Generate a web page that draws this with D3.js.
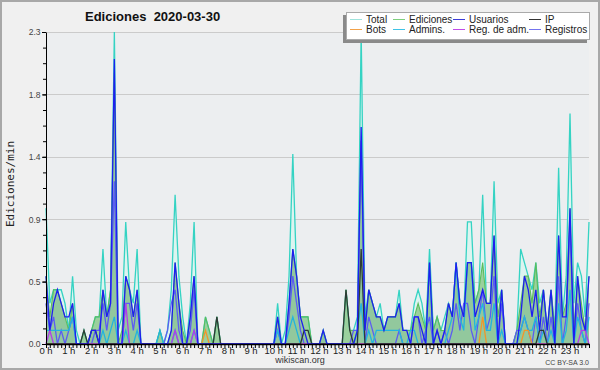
<!DOCTYPE html>
<html><head><meta charset="utf-8">
<script src="https://cdn.jsdelivr.net/npm/d3@7"></script>
<style>body{margin:0;background:#f0f0f0}svg{display:block}</style>
</head><body><svg id="c" width="600" height="370"></svg>
<script>
const hourLabels = ["0 h","1 h","2 h","3 h","4 h","5 h","6 h","7 h","8 h","9 h","10 h","11 h","12 h","13 h","14 h","15 h","16 h","17 h","18 h","19 h","20 h","21 h","22 h","23 h"];
const yTickValues = [0, 0.46, 0.92, 1.38, 1.84, 2.3];
const yTickLabels = ["0.0","0.5","0.9","1.4","1.8","2.3"];
const seriesNames = ["Total","Ediciones","Usuarios","IP","Bots","Admins.","Reg. de adm.","Registros"];

// edits per minute, 10-minute bins (6 per hour)
const total = [
1.0,0.3,0.4,0.4,0.4,0.3, 0.1,0.5,0.1,0.0,0.1,0.0, 0.1,0.2,0.2,0.7,0.2,0.4, 2.3,0.1,0.2,0.9,0.4,0.3,
0.7,0.0,0.0,0.0,0.0,0.0, 0.1,0.0,0.1,0.4,1.1,0.5, 0.2,0.0,0.3,0.9,0.0,0.0, 0.2,0.1,0.0,0.2,0.0,0.0,
0.0,0.0,0.0,0.0,0.0,0.0, 0.0,0.0,0.0,0.0,0.0,0.0, 0.0,0.3,0.0,0.1,0.5,1.4, 0.5,0.2,0.2,0.2,0.0,0.0,
0.0,0.1,0.0,0.0,0.0,0.0, 0.0,0.4,0.1,0.1,0.2,2.3, 0.2,0.4,0.3,0.2,0.3,0.1, 0.2,0.2,0.2,0.4,0.1,0.1,
0.1,0.3,0.4,0.3,0.1,0.7, 0.1,0.2,0.1,0.2,0.3,0.2, 0.6,0.3,0.2,0.9,0.9,0.3, 0.4,1.1,0.3,0.3,1.2,0.3,
0.4,0.0,0.0,0.0,0.1,0.7, 0.6,0.5,0.4,0.6,0.3,0.4, 0.1,0.4,0.1,1.3,0.2,0.5, 1.7,0.3,0.6,0.5,0.2,0.9];
const ediciones = [
0.5,0.2,0.4,0.4,0.3,0.2, 0.1,0.3,0.0,0.0,0.1,0.0, 0.1,0.2,0.2,0.4,0.2,0.4, 2.0,0.0,0.1,0.5,0.4,0.2,
0.4,0.0,0.0,0.0,0.0,0.0, 0.1,0.0,0.0,0.1,0.6,0.3, 0.1,0.0,0.2,0.5,0.0,0.0, 0.2,0.1,0.0,0.2,0.0,0.0,
0.0,0.0,0.0,0.0,0.0,0.0, 0.0,0.0,0.0,0.0,0.0,0.0, 0.0,0.2,0.0,0.0,0.3,0.7, 0.5,0.2,0.2,0.2,0.0,0.0,
0.0,0.1,0.0,0.0,0.0,0.0, 0.0,0.4,0.1,0.1,0.1,1.5, 0.1,0.4,0.3,0.2,0.2,0.1, 0.2,0.2,0.2,0.3,0.1,0.1,
0.1,0.2,0.3,0.2,0.1,0.6, 0.1,0.2,0.1,0.1,0.3,0.2, 0.6,0.3,0.2,0.6,0.6,0.3, 0.4,0.6,0.3,0.3,0.8,0.2,
0.4,0.0,0.0,0.0,0.1,0.3, 0.5,0.5,0.3,0.6,0.2,0.4, 0.1,0.4,0.1,0.8,0.2,0.3, 1.0,0.1,0.5,0.3,0.1,0.5];
const usuarios = [
0.5,0.1,0.3,0.4,0.3,0.2, 0.2,0.3,0.0,0.0,0.0,0.0, 0.1,0.1,0.0,0.4,0.2,0.3, 2.1,0.0,0.0,0.5,0.4,0.2,
0.4,0.0,0.0,0.0,0.0,0.0, 0.0,0.0,0.0,0.1,0.6,0.3, 0.0,0.0,0.2,0.5,0.0,0.0, 0.0,0.0,0.0,0.0,0.0,0.0,
0.0,0.0,0.0,0.0,0.0,0.0, 0.0,0.0,0.0,0.0,0.0,0.0, 0.0,0.2,0.0,0.0,0.3,0.7, 0.5,0.2,0.1,0.0,0.0,0.0,
0.0,0.1,0.0,0.0,0.0,0.0, 0.0,0.0,0.0,0.0,0.1,1.6, 0.1,0.4,0.3,0.2,0.2,0.1, 0.2,0.2,0.2,0.3,0.1,0.1,
0.0,0.2,0.2,0.1,0.0,0.6, 0.0,0.1,0.0,0.1,0.3,0.2, 0.6,0.3,0.2,0.6,0.6,0.2, 0.3,0.4,0.3,0.3,0.8,0.0,
0.4,0.0,0.0,0.0,0.0,0.2, 0.5,0.4,0.2,0.4,0.1,0.4, 0.1,0.4,0.0,0.8,0.2,0.2, 1.0,0.0,0.5,0.2,0.1,0.5];
const ip = [
0,0,0,0,0,0, 0,0,0,0,0.1,0, 0.1,0.1,0,0,0,0, 0,0,0,0,0,0,
0,0,0,0,0,0, 0,0,0,0,0,0, 0,0,0,0,0,0, 0,0,0,0.2,0,0,
0,0,0,0,0,0, 0,0,0,0,0,0, 0,0,0,0,0,0, 0,0,0.1,0.1,0,0,
0,0,0,0,0,0, 0,0.4,0.1,0,0,0.7, 0,0,0,0,0,0, 0,0,0,0,0,0,
0,0,0,0,0,0, 0,0,0,0,0,0, 0,0,0,0,0,0, 0,0,0,0,0,0,
0,0,0,0,0,0, 0,0,0,0,0.1,0.1, 0,0,0,0,0,0, 0,0,0,0,0,0];
const bots = [
0,0,0,0,0,0, 0,0,0,0,0,0, 0,0,0,0,0,0, 0,0,0,0,0,0,
0,0,0,0,0,0, 0,0,0,0,0,0, 0,0,0,0,0,0, 0.1,0,0,0,0,0,
0,0,0,0,0,0, 0,0,0,0,0,0, 0,0,0,0,0,0, 0,0,0,0,0,0,
0,0,0,0,0,0, 0,0,0,0,0,0, 0,0,0,0,0,0, 0,0,0,0,0,0,
0,0,0,0,0,0, 0,0,0,0,0,0, 0,0,0,0,0,0, 0,0.2,0,0,0,0,
0,0,0,0,0,0, 0.1,0.1,0,0,0,0, 0,0,0,0,0,0, 0,0,0,0,0,0];
const admins = [
0.1,0.1,0.1,0.1,0.1,0.1, 0.1,0.2,0.0,0.0,0.0,0.0, 0.0,0.0,0.0,0.1,0.0,0.1, 0.2,0.0,0.0,0.1,0.0,0.0,
0.1,0.0,0.0,0.0,0.0,0.0, 0.1,0.0,0.0,0.0,0.1,0.0, 0.0,0.0,0.0,0.1,0.0,0.0, 0.0,0.0,0.0,0.0,0.0,0.0,
0.0,0.0,0.0,0.0,0.0,0.0, 0.0,0.0,0.0,0.0,0.0,0.0, 0.0,0.1,0.0,0.0,0.1,0.2, 0.1,0.0,0.0,0.0,0.0,0.0,
0.0,0.0,0.0,0.0,0.0,0.0, 0.0,0.0,0.0,0.0,0.1,0.3, 0.0,0.1,0.0,0.1,0.1,0.1, 0.1,0.1,0.1,0.1,0.0,0.0,
0.1,0.1,0.0,0.0,0.0,0.6, 0.0,0.0,0.0,0.0,0.1,0.2, 0.6,0.2,0.1,0.6,0.6,0.1, 0.2,0.3,0.1,0.1,0.3,0.0,
0.1,0.0,0.0,0.0,0.0,0.1, 0.2,0.1,0.1,0.2,0.0,0.1, 0.0,0.1,0.0,0.3,0.0,0.1, 0.4,0.0,0.2,0.1,0.0,0.2];
const regAdm = [
0,0.1,0,0,0,0, 0,0,0,0,0,0, 0,0,0,0,0,0, 0,0,0,0.3,0,0,
0,0,0,0,0,0, 0,0,0,0,0.1,0, 0,0,0,0.1,0,0, 0,0,0,0,0,0,
0,0,0,0,0,0, 0,0,0,0,0,0, 0,0,0,0,0,0, 0,0,0,0,0,0,
0,0,0,0,0,0, 0,0,0,0,0,0, 0,0,0,0,0,0, 0,0,0,0,0,0,
0,0,0,0,0,0, 0,0,0,0,0,0, 0,0,0,0,0,0, 0,0,0,0,0,0,
0,0,0,0,0,0, 0,0,0,0,0,0, 0,0,0,0,0,0, 0,0,0,0.1,0.1,0];
const registros = [
0.3,0.1,0.2,0.0,0.1,0.0, 0.1,0.2,0.0,0.0,0.0,0.0, 0.0,0.1,0.1,0.3,0.1,0.3, 1.2,0.0,0.0,0.3,0.3,0.1,
0.3,0.0,0.0,0.0,0.0,0.0, 0.0,0.0,0.1,0.3,0.4,0.1, 0.0,0.0,0.1,0.4,0.0,0.0, 0.0,0.0,0.0,0.0,0.0,0.0,
0.0,0.0,0.0,0.0,0.0,0.0, 0.0,0.0,0.0,0.0,0.0,0.0, 0.0,0.1,0.0,0.0,0.2,0.5, 0.3,0.1,0.0,0.0,0.0,0.0,
0.0,0.0,0.0,0.0,0.0,0.0, 0.0,0.0,0.0,0.1,0.1,1.5, 0.0,0.2,0.1,0.0,0.0,0.0, 0.0,0.0,0.0,0.1,0.0,0.0,
0.0,0.2,0.2,0.0,0.1,0.2, 0.0,0.1,0.0,0.1,0.0,0.1, 0.3,0.1,0.3,0.3,0.1,0.0, 0.2,0.4,0.1,0.2,0.5,0.0,
0.3,0.0,0.0,0.0,0.1,0.1, 0.2,0.1,0.0,0.2,0.0,0.2, 0.0,0.2,0.0,0.5,0.0,0.2, 0.9,0.0,0.3,0.1,0.0,0.3];

const lineColors = {total:"#35d3c3", ediciones:"#5cbc5c", usuarios:"#1e1ef0", ip:"#2d3b35",
  bots:"#f0962a", admins:"#22b4de", regAdm:"#b43ce8", registros:"#5c5cf2"};
const legendColors = ["#9fe3dc","#7ecf7e","#3c3cd8","#333333","#f2a24a","#3fc3e6","#c04ce8","#7474ee"];

const svg = d3.select("#c");
svg.append("rect").attr("x",1).attr("y",1).attr("width",598).attr("height",368)
  .attr("fill","#f0f0f0").attr("stroke","#a8a8a8").attr("stroke-width",2);

const N = total.length;
const x = d3.scaleLinear().domain([0, N-1]).range([46, 589]);
const y = d3.scaleLinear().domain([0, 2.3]).range([344, 32]);

svg.append("rect").attr("x",46).attr("y",32).attr("width",543).attr("height",312).attr("fill","#eceef0");

// grid
svg.append("g").selectAll("line").data(yTickValues.slice(1)).join("line")
  .attr("x1",46).attr("x2",589).attr("y1",d=>Math.round(y(d))+0.5).attr("y2",d=>Math.round(y(d))+0.5)
  .attr("stroke","#cbcbcb").attr("stroke-width",1);

const idx = d3.range(N);
const area = arr => d3.area().x(i=>x(i)).y0(y(0)).y1(i=>y(arr[i]));
const line = arr => d3.line().x(i=>x(i)).y(i=>y(arr[i]));

svg.append("path").attr("d", area(total)(idx)).attr("fill","#dcf4ef").attr("opacity",0.9);
svg.append("path").attr("d", area(ediciones)(idx)).attr("fill","#92cc94").attr("opacity",0.9);
svg.append("path").attr("d", area(usuarios)(idx)).attr("fill","#3060b0").attr("opacity",0.07);

const order = [["total",total],["ediciones",ediciones],["registros",registros],["admins",admins],
  ["bots",bots],["regAdm",regAdm],["ip",ip],["usuarios",usuarios]];
order.forEach(([k,arr])=>{
  svg.append("path").attr("d", line(arr)(idx)).attr("fill","none")
    .attr("stroke", lineColors[k]).attr("stroke-width", k==="ediciones"?1.1:1.3).attr("stroke-linejoin","miter");
});

// axes
const yMinor = d3.range(0, 21).map(k=>k*0.115);
svg.append("g").attr("transform","translate(46,0)")
  .call(d3.axisLeft(y).tickValues(yMinor).tickSize(3).tickSizeOuter(0).tickFormat(""))
  .call(g=>g.select(".domain").attr("stroke","#000"))
  .call(g=>g.selectAll(".tick line").attr("stroke","#000"));
svg.append("g").attr("transform","translate(46,0)")
  .call(d3.axisLeft(y).tickValues(yTickValues).tickSize(4).tickSizeOuter(0).tickFormat((d,i)=>yTickLabels[i]))
  .call(g=>g.select(".domain").remove())
  .call(g=>g.selectAll(".tick line").attr("stroke","#000"))
  .call(g=>g.selectAll(".tick text").attr("x",-5.5).attr("dy","0.35em")
     .attr("font-family","Liberation Sans, Arial, sans-serif").attr("font-size","8.5px").attr("fill","#444"));

svg.append("g").attr("transform","translate(0,344)")
  .call(d3.axisBottom(x).tickValues(idx).tickSize(4).tickSizeOuter(0).tickFormat(""))
  .call(g=>g.select(".domain").attr("stroke","#000").attr("stroke-width",1.3))
  .call(g=>g.selectAll(".tick line").attr("stroke","#000"));
svg.append("g").selectAll("text").data(hourLabels).join("text")
  .attr("x",(d,i)=>x(i*6)).attr("y",354).attr("text-anchor","middle")
  .attr("font-family","Liberation Sans, Arial, sans-serif").attr("font-size","9.5px").attr("fill","#222")
  .text(d=>d);

// title
svg.append("text").attr("x",85).attr("y",21).attr("xml:space","preserve").style("white-space","pre")
  .attr("font-family","Liberation Sans, Arial, sans-serif").attr("font-weight","bold").attr("font-size","13px")
  .attr("fill","#111").text("Ediciones  2020-03-30");

// y title
svg.append("text").attr("transform","translate(13.5,184) rotate(-90)").attr("text-anchor","middle")
  .attr("font-family","DejaVu Sans Mono, monospace").attr("font-size","11px").attr("fill","#222")
  .text("Ediciones/min");

// footer
svg.append("text").attr("x",300).attr("y",363).attr("text-anchor","middle")
  .attr("font-family","Liberation Sans, Arial, sans-serif").attr("font-size","9px").attr("fill","#333").text("wikiscan.org");
svg.append("text").attr("x",589).attr("y",365).attr("text-anchor","end")
  .attr("font-family","Liberation Sans, Arial, sans-serif").attr("font-size","7px").attr("fill","#444").text("CC BY-SA 3.0");

// legend
svg.append("rect").attr("x",343).attr("y",15).attr("width",244).attr("height",28).attr("fill","#8a8a8a");
svg.append("rect").attr("x",346.5).attr("y",12.5).attr("width",243).attr("height",27).attr("fill","#fff").attr("stroke","#aaa");
const colX = [350, 393, 453, 529];
const lg = svg.append("g").selectAll("g").data(seriesNames).join("g")
  .attr("transform",(d,i)=>`translate(${colX[i%4]},${i<4?19.5:29.5})`);
lg.append("line").attr("x1",0).attr("x2",12).attr("y1",0).attr("y2",0)
  .attr("stroke",(d,i)=>legendColors[i]).attr("stroke-width",1);
lg.append("text").attr("x",16).attr("y",3).attr("font-family","Liberation Sans, Arial, sans-serif")
  .attr("font-size","10px").attr("fill","#222").text(d=>d);
</script></body></html>
